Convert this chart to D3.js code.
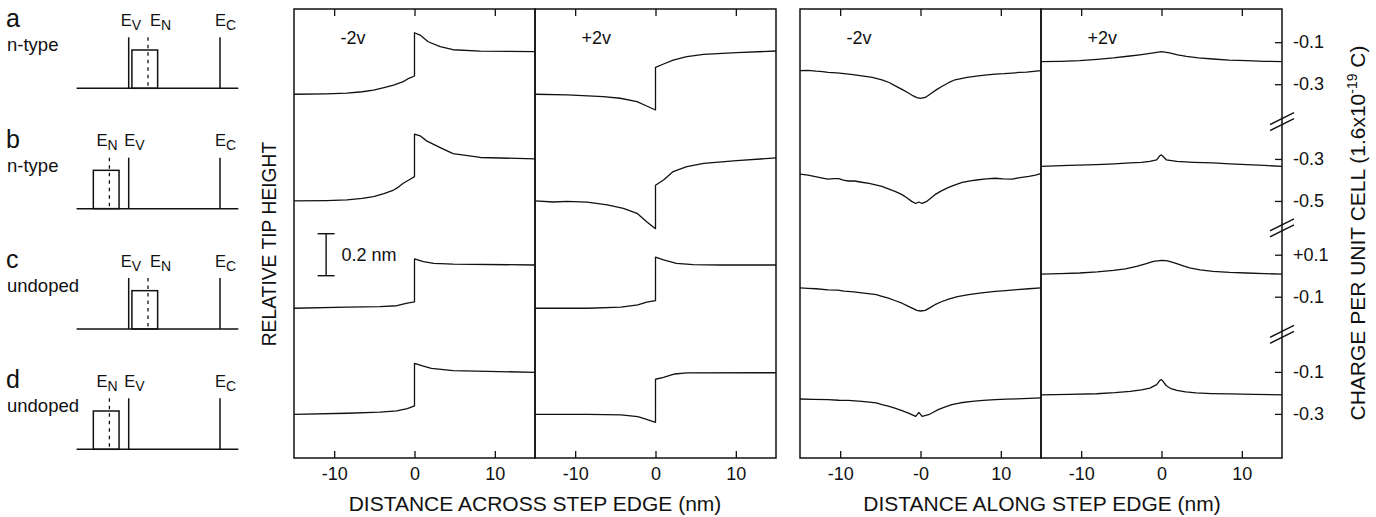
<!DOCTYPE html>
<html><head><meta charset="utf-8">
<script src="https://cdn.jsdelivr.net/npm/d3@7"></script>
<style>
html,body{margin:0;padding:0;background:#fff;}
svg text{font-family:"Liberation Sans",Arial,Helvetica,sans-serif;fill:#111;}
</style></head>
<body><svg id="c" width="1376" height="517"></svg>
<script>
// ---------------- DATA ----------------
// schematic energy levels (eV, relative to E_V)
const schemRows = ["a","b","c","d"];
const schemDoping = ["n-type","n-type","undoped","undoped"];
const levelEV = 0, levelEC = 1.42;
const levelEN = [0.30, -0.30, 0.30, -0.30];

// tip-height row offsets (nm)
const rowOffsetNm = [1.732, 1.224, 0.713, 0.208];
const scaleBarNm = 0.2;

// across step edge, -2 V  ([x nm, relative height nm])
const across_m2_a = [[-15,0],[-11,0.002],[-8.4,0.005],[-6.5,0.012],[-5.1,0.02],[-3.8,0.032],[-2.6,0.044],[-2.0,0.052],[-1.4,0.06],[-0.7,0.076],[0,0.087],[0,0.293],[0.7,0.282],[1.7,0.25],[3.2,0.227],[4.8,0.212],[8.2,0.205],[15,0.203]];
const across_m2_b = [[-15,0],[-11,0.002],[-8.4,0.005],[-6.5,0.012],[-5.1,0.021],[-3.8,0.035],[-2.6,0.052],[-2.0,0.066],[-1.4,0.084],[-0.7,0.1],[0,0.116],[0,0.318],[0.7,0.31],[1.5,0.286],[3.2,0.254],[4.8,0.225],[8.2,0.207],[15,0.2]];
const across_m2_c = [[-15,0],[-8.4,0.005],[-4.3,0.008],[-2.2,0.012],[-0.9,0.024],[0,0.03],[0,0.235],[1.1,0.222],[2.4,0.214],[4.8,0.21],[15,0.206]];
const across_m2_d = [[-15,0],[-8.4,0.005],[-4.3,0.01],[-2.2,0.016],[-0.9,0.027],[0,0.04],[0,0.243],[1.1,0.23],[2.1,0.219],[4.8,0.208],[15,0.2]];
// across step edge, +2 V
const across_p2_a = [[-15,0],[-11,-0.003],[-6.5,-0.011],[-4.4,-0.019],[-2.3,-0.035],[-1.1,-0.056],[0,-0.075],[0,0.128],[1.0,0.144],[2.2,0.163],[3.9,0.179],[6.0,0.19],[10.1,0.198],[15,0.206]];
const across_p2_b = [[-15,0],[-12.7,-0.005],[-11,-0.002],[-8.5,-0.006],[-6.0,-0.019],[-4.0,-0.035],[-2.3,-0.059],[-1.1,-0.099],[0,-0.132],[0,0.075],[1.0,0.1],[2.2,0.14],[3.9,0.163],[6.0,0.179],[10.1,0.192],[15,0.205]];
const across_p2_c = [[-15,0],[-8.4,0],[-4.3,0.005],[-2.2,0.016],[-1.1,0.029],[0,0.036],[0,0.243],[1.0,0.23],[2.6,0.214],[4.7,0.208],[8,0.206],[15,0.206]];
const across_p2_d = [[-15,0],[-8.4,0],[-4.3,-0.003],[-2.2,-0.011],[-1.1,-0.024],[0,-0.038],[0,0.167],[1.0,0.176],[2.4,0.192],[3.9,0.197],[15,0.198]];

// charge axis: tick values and offsets per row
const chargeTicks = [[-0.1,-0.3],[-0.3,-0.5],[0.1,-0.1],[-0.1,-0.3]];
const chargeOffset = [2.08, 1.724, 0.868, 0.51];

// along step edge, -2 V ([x nm, charge])
const along_m2_a = [[-15,-0.235],[-14,-0.234],[-13,-0.238],[-12.2,-0.240],[-11.5,-0.244],[-10.4,-0.246],[-9.5,-0.250],[-8.4,-0.254],[-7.3,-0.26],[-6,-0.268],[-4.8,-0.279],[-3.9,-0.292],[-3.2,-0.307],[-2.3,-0.325],[-1.5,-0.342],[-0.9,-0.356],[-0.45,-0.364],[0,-0.368],[0.6,-0.363],[1.4,-0.342],[2.0,-0.326],[2.7,-0.31],[3.5,-0.293],[4.3,-0.279],[5.8,-0.268],[7.2,-0.26],[8.3,-0.256],[9.3,-0.252],[10.4,-0.250],[11.4,-0.247],[12.3,-0.244],[13.2,-0.243],[14.1,-0.239],[15,-0.235]];
const along_m2_b = [[-15,-0.372],[-14,-0.377],[-13.1,-0.384],[-12.2,-0.391],[-11.5,-0.396],[-10.8,-0.394],[-10.2,-0.394],[-9.6,-0.401],[-9.0,-0.405],[-8.2,-0.405],[-7.3,-0.411],[-6.4,-0.416],[-5.6,-0.423],[-4.8,-0.431],[-4.0,-0.443],[-3.1,-0.456],[-2.3,-0.47],[-1.7,-0.485],[-1.1,-0.502],[-0.6,-0.512],[-0.2,-0.505],[0.2,-0.512],[0.8,-0.502],[1.3,-0.486],[1.8,-0.47],[2.6,-0.452],[3.5,-0.435],[4.3,-0.423],[5.2,-0.412],[6.2,-0.404],[7.2,-0.399],[8.2,-0.395],[9.3,-0.392],[10.3,-0.395],[11.4,-0.396],[12.4,-0.389],[13.5,-0.383],[14.3,-0.377],[15,-0.37]];
const along_m2_c = [[-15,-0.058],[-14,-0.060],[-13,-0.062],[-11.5,-0.067],[-10.3,-0.069],[-9.5,-0.073],[-8.3,-0.077],[-7.3,-0.082],[-5.5,-0.09],[-4.8,-0.098],[-4.0,-0.107],[-3.2,-0.118],[-2.3,-0.131],[-1.5,-0.146],[-0.45,-0.165],[0,-0.168],[0.6,-0.165],[1.2,-0.152],[1.8,-0.138],[2.6,-0.124],[3.5,-0.111],[4.6,-0.100],[6.0,-0.09],[7.6,-0.082],[9.3,-0.075],[10.6,-0.071],[12,-0.066],[13.5,-0.062],[15,-0.058]];
const along_m2_d = [[-15,-0.229],[-13.4,-0.231],[-11.5,-0.232],[-10.2,-0.235],[-9,-0.236],[-7.3,-0.24],[-5.5,-0.248],[-4.8,-0.256],[-4.0,-0.263],[-3.2,-0.272],[-2.3,-0.284],[-1.5,-0.296],[-0.6,-0.312],[-0.2,-0.293],[0.2,-0.312],[1.0,-0.304],[1.6,-0.292],[2.2,-0.28],[3.0,-0.268],[3.9,-0.256],[5.0,-0.247],[6.4,-0.24],[7.8,-0.236],[9.3,-0.232],[10.7,-0.230],[12,-0.228],[13.5,-0.226],[15,-0.224]];
// along step edge, +2 V
const along_p2_a = [[-15,-0.193],[-12.6,-0.191],[-10.2,-0.188],[-8,-0.182],[-6.0,-0.175],[-4.2,-0.167],[-2.7,-0.16],[-1.0,-0.151],[0,-0.145],[1.0,-0.151],[2.0,-0.160],[3.1,-0.168],[4.6,-0.175],[6.4,-0.18],[8.4,-0.185],[10.6,-0.188],[12.8,-0.191],[15,-0.193]];
const along_p2_b = [[-15,-0.335],[-11.5,-0.331],[-8.1,-0.327],[-5.9,-0.323],[-3.9,-0.319],[-2.5,-0.316],[-1.45,-0.312],[-0.6,-0.304],[-0.2,-0.284],[0,-0.281],[0.2,-0.288],[0.6,-0.304],[1.9,-0.312],[4.0,-0.316],[6.4,-0.319],[8.5,-0.323],[10.6,-0.327],[12.8,-0.331],[15,-0.335]];
const along_p2_c = [[-15,0.008],[-12.6,0.010],[-10.2,0.013],[-8,0.018],[-6.0,0.025],[-4.5,0.033],[-3.1,0.044],[-2.0,0.056],[-1.0,0.068],[0,0.073],[0.6,0.072],[1.2,0.066],[1.9,0.057],[2.7,0.047],[3.5,0.037],[4.8,0.028],[6.4,0.021],[8.5,0.016],[10.6,0.013],[12.8,0.010],[15,0.008]];
const along_p2_d = [[-15,-0.209],[-11.5,-0.207],[-8.1,-0.204],[-5.8,-0.199],[-3.9,-0.193],[-2.5,-0.186],[-1.45,-0.177],[-0.6,-0.161],[-0.2,-0.14],[0,-0.137],[0.2,-0.145],[0.6,-0.166],[1.2,-0.180],[1.9,-0.188],[3.0,-0.195],[4.3,-0.2],[6.2,-0.203],[8.5,-0.205],[11.5,-0.207],[15,-0.209]];

const xTickValues = [-10, 0, 10];
const xTickLabelsStd = ["-10","0","10"];
const xTickLabelsAlong2 = ["-10","-0","10"];
const biasLabels = ["-2v","+2v","-2v","+2v"];

// ---------------- DRAW ----------------
const svg = d3.select("#c");
const ink = "#111";
const FRAME_TOP = 9, FRAME_BOT = 458;
const y = d3.scaleLinear().domain([0, 2.138]).range([FRAME_BOT, FRAME_TOP]);
const line = (xs, ys) => d3.line().x(d => xs(d[0])).y(d => ys(d[1])).curve(d3.curveLinear);

// ---- schematics ----
const ex = d3.scaleLinear().domain([levelEV, levelEC]).range([128.7, 220]);
const rowY = d3.scaleLinear().domain([0, 3]).range([88.3, 449.3]);
const LINE_H = 51, BOX_H = 38.3;
function eLabel(g, x, yy, sub) {
  const t = g.append("text").attr("x", x).attr("y", yy).style("font-size", "16.5px").text("E");
  t.append("tspan").attr("dy", 4).style("font-size", "14px").text(sub);
}
schemRows.forEach((lab, i) => {
  const g = svg.append("g");
  const base = rowY(i);
  const en = levelEN[i];
  g.append("line").attr("x1", ex(-0.81)).attr("x2", ex(1.705)).attr("y1", base).attr("y2", base)
    .attr("stroke", ink).attr("stroke-width", 1.5);
  [levelEV, levelEC].forEach(v => g.append("line").attr("x1", ex(v)).attr("x2", ex(v))
    .attr("y1", base).attr("y2", base - LINE_H).attr("stroke", ink).attr("stroke-width", 1.5));
  g.append("rect").attr("x", ex(en - 0.25)).attr("width", ex(en + 0.15) - ex(en - 0.25))
    .attr("y", base - BOX_H).attr("height", BOX_H).attr("fill", "none").attr("stroke", ink).attr("stroke-width", 1.5);
  g.append("line").attr("x1", ex(en)).attr("x2", ex(en)).attr("y1", base - LINE_H).attr("y2", base)
    .attr("stroke", ink).attr("stroke-width", 1.3).attr("stroke-dasharray", "3.5,4");
  const ly = base - 62.3;
  if (en > levelEV) {
    eLabel(g, ex(levelEV) - 8, ly, "V");
    eLabel(g, ex(en) + 2, ly, "N");
  } else {
    eLabel(g, ex(en) - 13, ly, "N");
    eLabel(g, ex(levelEV) - 4.4, ly, "V");
  }
  eLabel(g, ex(levelEC) - 5, ly, "C");
  g.append("text").attr("x", 6).attr("y", base - 61).style("font-size", "25px").text(lab);
  g.append("text").attr("x", 7).attr("y", base - 37).style("font-size", "18.5px").text(schemDoping[i]);
});

// ---- panels ----
const PW = 241;
const panels = [
  {left: 294, rows: [across_m2_a, across_m2_b, across_m2_c, across_m2_d], kind: "across", ticks: xTickLabelsStd},
  {left: 535, rows: [across_p2_a, across_p2_b, across_p2_c, across_p2_d], kind: "across", ticks: xTickLabelsStd},
  {left: 800, rows: [along_m2_a, along_m2_b, along_m2_c, along_m2_d], kind: "along", ticks: xTickLabelsAlong2},
  {left: 1041, rows: [along_p2_a, along_p2_b, along_p2_c, along_p2_d], kind: "along", ticks: xTickLabelsStd}
];
const chargeScales = chargeOffset.map(o => d3.scaleLinear().domain(y.domain().map(v => v - o)).range(y.range()));

panels.forEach((p, pi) => {
  const x = d3.scaleLinear().domain([-15, 15]).range([p.left, p.left + PW]);
  const g = svg.append("g");
  p.rows.forEach((data, r) => {
    let ys;
    if (p.kind === "across") {
      const off = rowOffsetNm[r];
      ys = v => y(v + off);
    } else {
      ys = chargeScales[r];
    }
    g.append("path").attr("d", line(x, ys)(data)).attr("fill", "none")
      .attr("stroke", ink).attr("stroke-width", 1.3).attr("stroke-linejoin", "round");
  });
  const ab = g.append("g").attr("transform", `translate(0,${FRAME_BOT})`)
    .call(d3.axisBottom(x).tickValues(xTickValues).tickSizeInner(-7).tickSizeOuter(0).tickPadding(9)
      .tickFormat((d, i) => p.ticks[i]));
  const at = g.append("g").attr("transform", `translate(0,${FRAME_TOP})`)
    .call(d3.axisTop(x).tickValues(xTickValues).tickSizeInner(-7).tickSizeOuter(0).tickFormat(""));
  [ab, at].forEach(a => {
    a.select(".domain").remove();
    a.selectAll("line").attr("stroke", ink).attr("stroke-width", 1.3);
    a.selectAll("text").style("font-size", "18px").style("font-family", '"Liberation Sans",Arial,sans-serif').attr("fill", ink);
  });
  g.append("rect").attr("x", x(-15)).attr("y", FRAME_TOP).attr("width", x(15) - x(-15))
    .attr("height", FRAME_BOT - FRAME_TOP).attr("fill", "none").attr("stroke", ink).attr("stroke-width", 1.5);
  g.append("text").attr("x", x(-9.2)).attr("y", 44).style("font-size", "18px").text(biasLabels[pi]);
  p.xs = x;
});

// scale bar in first panel
(function () {
  const x = panels[0].xs;
  const g = svg.append("g");
  const yb = y(0.868), yt = y(0.868 + scaleBarNm);
  const cx = x(-11);
  g.append("line").attr("x1", cx).attr("x2", cx).attr("y1", yb).attr("y2", yt).attr("stroke", ink).attr("stroke-width", 1.4);
  [yb, yt].forEach(v => g.append("line").attr("x1", cx - 8.5).attr("x2", cx + 8.5).attr("y1", v).attr("y2", v)
    .attr("stroke", ink).attr("stroke-width", 1.4));
  g.append("text").attr("x", x(-9.1)).attr("y", (yb + yt) / 2 + 6.5).style("font-size", "18px").text(scaleBarNm + " nm");
})();

// right charge axis
const RX = panels[3].xs(15);
chargeScales.forEach((cs, r) => {
  const a = svg.append("g").attr("transform", `translate(${RX},0)`)
    .call(d3.axisRight(cs).tickValues(chargeTicks[r]).tickSizeInner(-7).tickSizeOuter(0).tickPadding(11)
      .tickFormat(d => (d > 0 ? "+" : "") + d.toFixed(1)));
  a.select(".domain").remove();
  a.selectAll("line").attr("stroke", ink).attr("stroke-width", 1.3);
  a.selectAll("text").style("font-size", "18px").style("font-family", '"Liberation Sans",Arial,sans-serif').attr("fill", ink);
});
for (let r = 0; r < 3; r++) {
  const lo = d3.min(chargeTicks[r]) + chargeOffset[r];
  const hi = d3.max(chargeTicks[r + 1]) + chargeOffset[r + 1];
  const cy = y((lo + hi) / 2);
  [-3, 3].forEach(o => svg.append("line").attr("x1", RX - 12).attr("x2", RX + 12)
    .attr("y1", cy + o + 6).attr("y2", cy + o - 6).attr("stroke", ink).attr("stroke-width", 1.3));
}

// titles
svg.append("text").attr("x", (panels[0].xs(-15) + panels[1].xs(15)) / 2).attr("y", 511)
  .attr("text-anchor", "middle").style("font-size", "21px").text("DISTANCE ACROSS STEP EDGE (nm)");
svg.append("text").attr("x", (panels[2].xs(-15) + panels[3].xs(15)) / 2 + 1).attr("y", 511)
  .attr("text-anchor", "middle").style("font-size", "21px").text("DISTANCE ALONG STEP EDGE (nm)");
svg.append("text").attr("transform", "translate(276,244) rotate(-90)").attr("text-anchor", "middle")
  .style("font-size", "19.3px").text("RELATIVE TIP HEIGHT");
const rt = svg.append("text").attr("transform", "translate(1365,233) rotate(-90)").attr("text-anchor", "middle")
  .style("font-size", "21px").text("CHARGE PER UNIT CELL (1.6x10");
rt.append("tspan").attr("dy", -8).style("font-size", "14px").text("-19");
rt.append("tspan").attr("dy", 8).text(" C)");
</script></body></html>
